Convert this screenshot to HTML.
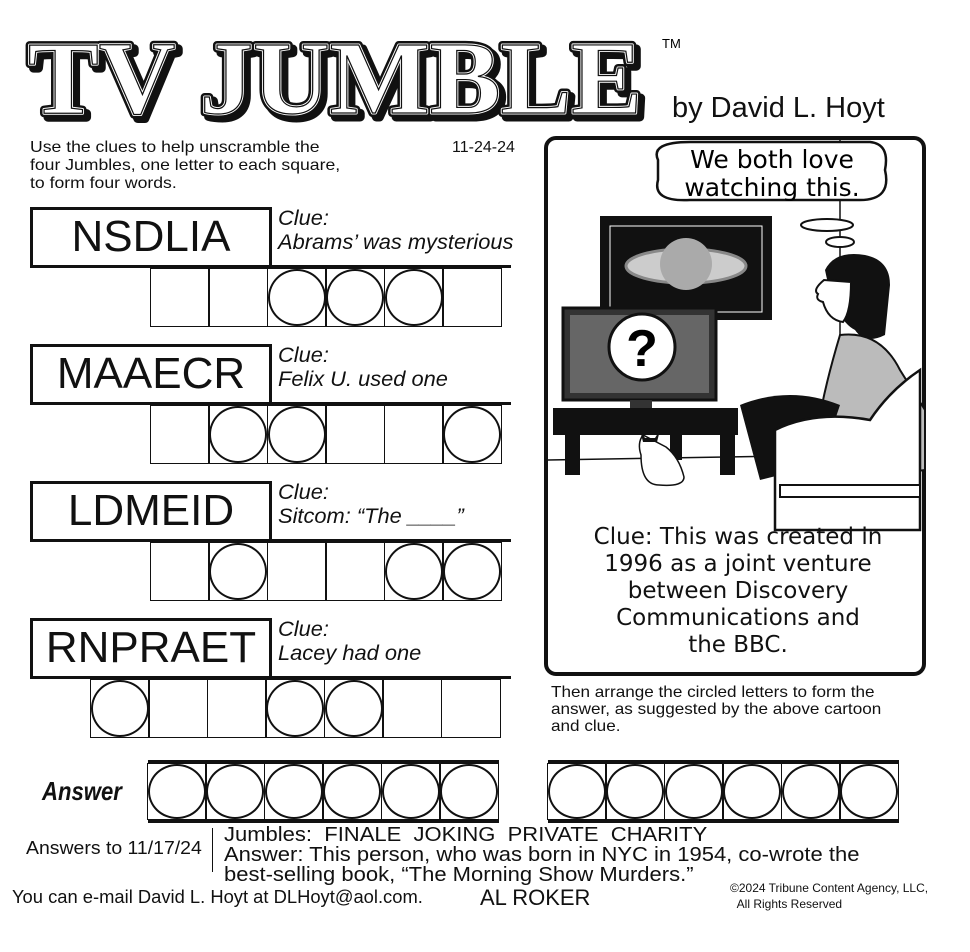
<!DOCTYPE html>
<html><head><meta charset="utf-8"><style>
body{margin:0;background:#fff;}
#p{position:relative;width:970px;height:952px;overflow:hidden;background:#fff;font-family:"Liberation Sans",sans-serif;color:#111;}
.a{position:absolute;white-space:nowrap;}
.sx{transform-origin:left top;}
.box{position:absolute;border:3px solid #111;box-sizing:border-box;background:#fff;font-size:44px;text-align:center;line-height:54px;}
.clue{position:absolute;font-style:italic;font-size:21px;line-height:24px;transform:scaleX(1.04);transform-origin:left top;}
.row{position:absolute;border-top:3px solid #111;display:flex;}
.cell{width:60px;height:59px;border:1.5px solid #111;box-sizing:border-box;margin-left:-1.5px;position:relative;}
.cell.c::after{content:"";position:absolute;left:0;top:0;right:0;bottom:0;border:2px solid #111;border-radius:50%;}
</style></head><body><div id="p">
<svg class="a" style="left:0;top:0" width="700" height="130">
<g font-family="Liberation Serif,serif" font-weight="bold" font-size="104">
<text x="32" y="117" textLength="614" lengthAdjust="spacingAndGlyphs" fill="#111" stroke="#111" stroke-width="9" stroke-linejoin="round">TV JUMBLE</text>
<text x="28" y="113" textLength="614" lengthAdjust="spacingAndGlyphs" fill="#fff" stroke="#111" stroke-width="8" stroke-linejoin="round">TV JUMBLE</text>
<text x="28" y="113" textLength="614" lengthAdjust="spacingAndGlyphs" fill="#fff" stroke="#fff" stroke-width="3" stroke-linejoin="round">TV JUMBLE</text>
<text x="28" y="113" textLength="614" lengthAdjust="spacingAndGlyphs" fill="none" stroke="#111" stroke-width="1.2">TV JUMBLE</text>
</g>
<text x="662" y="48" font-size="13" font-family="Liberation Sans,sans-serif">TM</text>
</svg>
<div class="a" style="left:672px;top:92px;font-size:29px;">by David L. Hoyt</div>
<div class="a sx" style="left:30px;top:139px;font-size:16px;line-height:18px;transform:scaleX(1.1);">Use the clues to help unscramble the<br>four Jumbles, one letter to each square,<br>to form four words.</div>
<div class="a" style="left:452px;top:139px;font-size:16px;">11-24-24</div>

<div class="box" style="left:30px;top:207px;width:242px;height:61px;">NSDLIA</div>
<div class="clue" style="left:278px;top:207px;">Clue:<br>Abrams’ was mysterious</div>
<div class="row" style="left:151px;top:265px;width:360px;"><div class="cell"></div><div class="cell"></div><div class="cell c"></div><div class="cell c"></div><div class="cell c"></div><div class="cell"></div></div>

<div class="box" style="left:30px;top:344px;width:242px;height:61px;">MAAECR</div>
<div class="clue" style="left:278px;top:344px;">Clue:<br>Felix U. used one</div>
<div class="row" style="left:151px;top:402px;width:360px;"><div class="cell"></div><div class="cell c"></div><div class="cell c"></div><div class="cell"></div><div class="cell"></div><div class="cell c"></div></div>

<div class="box" style="left:30px;top:481px;width:242px;height:61px;">LDMEID</div>
<div class="clue" style="left:278px;top:481px;">Clue:<br>Sitcom: “The ____”</div>
<div class="row" style="left:151px;top:539px;width:360px;"><div class="cell"></div><div class="cell c"></div><div class="cell"></div><div class="cell"></div><div class="cell c"></div><div class="cell c"></div></div>

<div class="box" style="left:30px;top:618px;width:242px;height:61px;">RNPRAET</div>
<div class="clue" style="left:278px;top:618px;">Clue:<br>Lacey had one</div>
<div class="row" style="left:91px;top:676px;width:420px;"><div class="cell c"></div><div class="cell"></div><div class="cell"></div><div class="cell c"></div><div class="cell c"></div><div class="cell"></div><div class="cell"></div></div>

<svg class="a" style="left:540px;top:130px" width="400" height="550">
<rect x="6" y="8" width="378" height="536" rx="10" fill="#fff" stroke="#111" stroke-width="4"/>
<line x1="300" y1="10" x2="300" y2="330" stroke="#111" stroke-width="1.5"/>
<line x1="8" y1="330" x2="300" y2="325" stroke="#111" stroke-width="1.5"/>
<path d="M118 30 Q110 12 150 12 L330 12 Q350 14 345 40 Q352 70 320 70 L150 70 Q112 72 118 50 Z" fill="#fff" stroke="#111" stroke-width="2.5"/>
<text x="232" y="38" font-size="25" text-anchor="middle" font-family="DejaVu Sans,sans-serif">We both love</text>
<text x="232" y="66" font-size="25" text-anchor="middle" font-family="DejaVu Sans,sans-serif">watching this.</text>
<ellipse cx="287" cy="95" rx="26" ry="6" fill="#fff" stroke="#111" stroke-width="2"/>
<ellipse cx="300" cy="112" rx="14" ry="5" fill="#fff" stroke="#111" stroke-width="2"/>
<rect x="60" y="86" width="172" height="104" fill="#111"/>
<rect x="70" y="96" width="152" height="86" fill="#111" stroke="#fff" stroke-width="1"/>
<ellipse cx="146" cy="136" rx="60" ry="17" fill="#ccc" stroke="#888" stroke-width="3"/>
<circle cx="146" cy="134" r="26" fill="#aaa"/>
<rect x="23" y="178" width="153" height="92" fill="#333" stroke="#111" stroke-width="3"/>
<rect x="30" y="185" width="139" height="78" fill="#666"/>
<circle cx="102" cy="217" r="33" fill="#fff" stroke="#111" stroke-width="3"/>
<text x="102" y="236" font-size="52" font-weight="bold" text-anchor="middle" font-family="Liberation Sans,sans-serif">?</text>
<rect x="90" y="270" width="22" height="8" fill="#333"/>
<path d="M13 278 L198 278 L198 305 L13 305 Z" fill="#111"/>
<rect x="25" y="300" width="15" height="45" fill="#111"/>
<rect x="180" y="300" width="15" height="45" fill="#111"/>
<rect x="130" y="300" width="12" height="30" fill="#111"/>
<path d="M103 305 q-6 8 -2 20 q0 30 18 30 q25 2 25 -8 q-5-20 -18-30 z" fill="#fff" stroke="#111" stroke-width="1.5"/>
<path d="M100 300 l5 8 l10 0 l5 -8 l-3 12 l-14 0z" fill="#111"/>
<path d="M285 140 q10 -20 40 -15 q25 5 25 30 l-5 50 q-20 10 -30 -5 q-20 -10 -30 -60z" fill="#111"/>
<path d="M284 150 q-12 10 -6 14 q-3 6 5 8 q5 18 20 20 q8 -10 8 -40 z" fill="#fff" stroke="#111" stroke-width="2"/>
<path d="M300 205 q40 -5 60 35 l25 40 l0 60 l-110 15 q-5 -50 25 -150z" fill="#bbb" stroke="#111" stroke-width="2"/>
<path d="M200 275 q50 -20 100 0 l-20 60 q-40 10 -60 15 z" fill="#111"/>
<path d="M235 300 q40 -20 95 -10 q20 -30 50 -50 l0 160 l-145 0 z" fill="#fff" stroke="#111" stroke-width="2.5"/>
<rect x="240" y="355" width="140" height="12" fill="#fff" stroke="#111" stroke-width="2"/>
</svg>
<div class="a" style="left:545px;top:524px;width:386px;text-align:center;font-family:'DejaVu Sans',sans-serif;font-size:23px;line-height:27px;white-space:normal;">Clue: This was created in<br>1996 as a joint venture<br>between Discovery<br>Communications and<br>the BBC.</div>
<div class="a sx" style="left:551px;top:684px;font-size:16px;line-height:17px;transform:scaleX(1.07);">Then arrange the circled letters to form the<br>answer, as suggested by the above cartoon<br>and clue.</div>

<div class="a" style="left:42px;top:776px;font-size:26px;font-style:italic;font-weight:bold;transform:scaleX(0.85);transform-origin:left;">Answer</div>
<div class="row" style="left:148px;top:760px;border-bottom:3px solid #111;"><div class="cell c" style="height:57px"></div><div class="cell c" style="height:57px"></div><div class="cell c" style="height:57px"></div><div class="cell c" style="height:57px"></div><div class="cell c" style="height:57px"></div><div class="cell c" style="height:57px"></div></div>
<div class="row" style="left:548px;top:760px;border-bottom:3px solid #111;"><div class="cell c" style="height:57px"></div><div class="cell c" style="height:57px"></div><div class="cell c" style="height:57px"></div><div class="cell c" style="height:57px"></div><div class="cell c" style="height:57px"></div><div class="cell c" style="height:57px"></div></div>

<div class="a sx" style="left:26px;top:838px;font-size:18px;transform:scaleX(1.08);">Answers to 11/17/24</div>
<div class="a" style="left:212px;top:828px;width:1px;height:44px;background:#111;"></div>
<div class="a sx" style="left:224px;top:825px;font-size:20px;line-height:20px;transform:scaleX(1.1);">Jumbles:&nbsp; FINALE&nbsp; JOKING&nbsp; PRIVATE&nbsp; CHARITY<br>Answer: This person, who was born in NYC in 1954, co-wrote the<br>best-selling book, “The Morning Show Murders.”</div>
<div class="a sx" style="left:12px;top:887px;font-size:18px;transform:scaleX(1.02);">You can e-mail David L. Hoyt at DLHoyt@aol.com.</div>
<div class="a" style="left:480px;top:885px;font-size:22px;">AL ROKER</div>
<div class="a" style="left:730px;top:880px;font-size:12px;line-height:16px;">©2024 Tribune Content Agency, LLC,<br>&nbsp;&nbsp;All Rights Reserved</div>
</div></body></html>
